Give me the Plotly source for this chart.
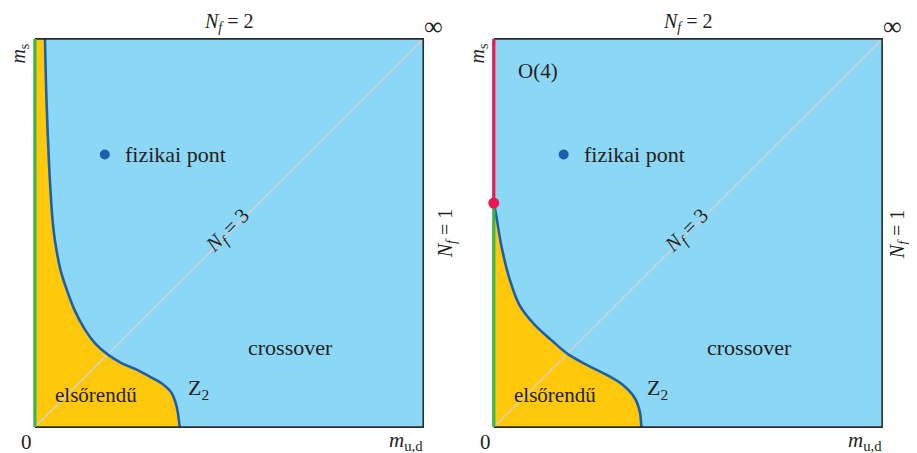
import plotly.graph_objects as go

# ---- data (unit square: m_ud on x, m_s on y) ----
left_curve_y = [1.0, 0.839, 0.667, 0.539, 0.478, 0.405, 0.354, 0.302, 0.251, 0.216, 0.186, 0.165, 0.148, 0.130, 0.113, 0.088, 0.053, 0.0]
left_curve_x = [0.026, 0.030, 0.037, 0.045, 0.052, 0.066, 0.082, 0.102, 0.129, 0.155, 0.189, 0.223, 0.262, 0.296, 0.326, 0.352, 0.365, 0.373]

right_curve_y = [0.577, 0.547, 0.470, 0.384, 0.315, 0.264, 0.221, 0.188, 0.161, 0.135, 0.109, 0.075, 0.040, 0.0]
right_curve_x = [0.0, 0.006, 0.019, 0.040, 0.066, 0.105, 0.152, 0.191, 0.238, 0.290, 0.332, 0.363, 0.376, 0.380]

tricritical_ms = 0.577          # right panel: O(4) line ends here
physical_point = (0.18, 0.702)  # (m_ud, m_s)

square_x = [0, 1, 1, 0]
square_y = [0, 0, 1, 1]
frame_x = [0, 1, 1, 0]
frame_y = [0, 0, 1, 1]
diag = [0, 1]

labels = {
    "nf2": "<i>N<sub>f</sub></i> = 2",
    "inf": "∞",
    "ms": "<i>m</i><sub>s</sub>",
    "zero": "0",
    "mud": "<i>m</i><sub>u,d</sub>",
    "nf1": "<i>N<sub>f</sub></i> = 1",
    "nf3": "<i>N<sub>f</sub></i> = 3",
    "phys": "fizikai pont",
    "cross": "crossover",
    "first": "elsőrendű",
    "z2": "Z<sub>2</sub>",
    "o4": "O(4)",
}

BLUE_FILL = "#8cd7f5"
YELLOW = "#ffc80a"
CURVE = "#1e5faa"
GREEN = "#3cb44b"
RED = "#e8194f"
DIAG = "#d2d2d2"
FRAME = "#2b2b2b"
TEXT = "#231f20"
FONT = "Liberation Serif"
PAD = 0.01  # axis range padding so edge lines are not clipped

fig = go.Figure()

def panel(xa, ya, cx, cy, right):
    fig.add_trace(go.Scatter(x=square_x, y=square_y, fill="toself", fillcolor=BLUE_FILL,
                             mode="lines", line=dict(width=0), xaxis=xa, yaxis=ya, hoverinfo="skip"))
    fig.add_trace(go.Scatter(x=cx, y=cy, fill="tozerox", fillcolor=YELLOW, mode="lines",
                             line=dict(width=0, shape="spline", smoothing=0.9),
                             xaxis=xa, yaxis=ya, hoverinfo="skip"))
    fig.add_trace(go.Scatter(x=diag, y=diag, mode="lines", line=dict(color=DIAG, width=1.4),
                             xaxis=xa, yaxis=ya, hoverinfo="skip"))
    fig.add_trace(go.Scatter(x=cx, y=cy, mode="lines",
                             line=dict(color=CURVE, width=2.6, shape="spline", smoothing=0.9),
                             xaxis=xa, yaxis=ya, hoverinfo="skip"))
    fig.add_trace(go.Scatter(x=frame_x, y=frame_y, mode="lines", line=dict(color=FRAME, width=1.6),
                             xaxis=xa, yaxis=ya, hoverinfo="skip"))
    if right:
        fig.add_trace(go.Scatter(x=[0, 0], y=[0, tricritical_ms], mode="lines",
                                 line=dict(color=GREEN, width=3.2), xaxis=xa, yaxis=ya, hoverinfo="skip"))
        fig.add_trace(go.Scatter(x=[0, 0], y=[tricritical_ms, 1], mode="lines",
                                 line=dict(color=RED, width=3.2), xaxis=xa, yaxis=ya, hoverinfo="skip"))
        fig.add_trace(go.Scatter(x=[0], y=[tricritical_ms], mode="markers",
                                 marker=dict(color=RED, size=11), cliponaxis=False,
                                 xaxis=xa, yaxis=ya, hoverinfo="skip"))
    else:
        fig.add_trace(go.Scatter(x=[0, 0], y=[0, 1], mode="lines",
                                 line=dict(color=GREEN, width=3.2), xaxis=xa, yaxis=ya, hoverinfo="skip"))
    fig.add_trace(go.Scatter(x=[physical_point[0]], y=[physical_point[1]], mode="markers",
                             marker=dict(color=CURVE, size=10), xaxis=xa, yaxis=ya, hoverinfo="skip"))

panel("x", "y", left_curve_x, left_curve_y, False)
panel("x2", "y2", right_curve_x, right_curve_y, True)

def dom(v):
    return (v + PAD) / (1 + 2 * PAD)

ann = []
def A(xr, yr, x, y, key, size=22, angle=0, xanchor="center"):
    ann.append(dict(xref=xr + " domain", yref=yr + " domain", x=dom(x), y=dom(y),
                    text=labels[key], showarrow=False,
                    textangle=angle, xanchor=xanchor, yanchor="middle",
                    font=dict(family=FONT, size=size, color=TEXT)))

for xr, yr, right in (("x", "y", False), ("x2", "y2", True)):
    A(xr, yr, 0.5, 1.043, "nf2", 20)
    A(xr, yr, 1.027, 1.032, "inf", 26)
    A(xr, yr, -0.040, 0.963, "ms", 20, -90)
    A(xr, yr, -0.021, -0.038, "zero", 21)
    A(xr, yr, 0.956, -0.036, "mud", 21)
    A(xr, yr, 1.042 if right else 1.060, 0.498, "nf1", 20, -90)
    A(xr, yr, 0.497, 0.505, "nf3", 21, -45)
    A(xr, yr, 0.226, 0.703, "phys", 22, 0, "left")
    A(xr, yr, 0.659, 0.205, "cross", 22)
    A(xr, yr, 0.158, 0.083, "first", 21)
    A(xr, yr, 0.421, 0.097, "z2", 22)
    if right:
        A(xr, yr, 0.113, 0.917, "o4", 21)

ax = dict(range=[-PAD, 1 + PAD], showgrid=False, zeroline=False, showticklabels=False,
          ticks="", showline=False, fixedrange=True)
fig.update_layout(
    width=909, height=445, autosize=False,
    margin=dict(l=23, r=31, t=27, b=22),
    plot_bgcolor="white", paper_bgcolor="white",
    showlegend=False,
    xaxis=dict(ax, domain=[0, 0.4633]),
    yaxis=dict(ax, domain=[0, 1]),
    xaxis2=dict(ax, domain=[0.5367, 1]),
    yaxis2=dict(ax, domain=[0, 1]),
    annotations=ann,
)

fig.write_html("out.html")
